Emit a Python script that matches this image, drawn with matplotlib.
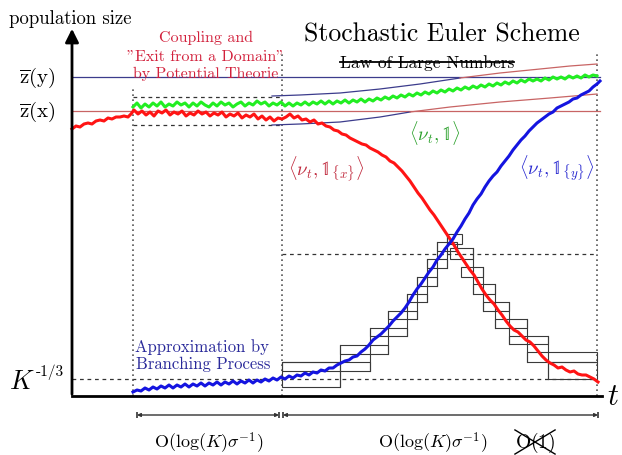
import numpy as np
import matplotlib
matplotlib.use('Agg')
import matplotlib.pyplot as plt
from matplotlib.patches import Rectangle

plt.rcParams['mathtext.fontset'] = 'cm'
plt.rcParams['font.family'] = ['cmr10', 'DejaVu Serif']
plt.rcParams['axes.unicode_minus'] = False

# ---------------- data (t = time, n = population size) ----------------
red_t = [0, 4, 8, 12, 16, 20, 24, 28, 32, 36, 40, 44, 48, 52, 56, 59, 62, 66, 70, 74, 78, 82, 86, 90, 94, 98,
         102, 106, 110, 114, 118, 122, 126, 130, 134, 138, 142, 146, 150, 154, 158, 162, 166, 170, 174, 178,
         182, 186, 190, 194, 198, 202, 206, 210, 214, 218, 222, 226, 230, 234, 238, 242, 246, 250, 254, 258,
         262, 266, 270, 274, 278, 282, 286, 290, 294, 298, 302, 306, 310, 314, 318, 322, 326, 330, 334, 338,
         342, 346, 350, 354, 358, 362, 366, 370, 374, 378, 382, 386, 390, 394, 398, 402, 406, 410, 414, 418,
         422, 426, 430, 434, 438, 442, 446, 450, 454, 458, 462, 466, 470, 474, 478, 482, 486, 490, 494, 498,
         502, 506, 510, 514, 518, 522, 526]
red_n = [267, 270, 269, 272, 273, 272, 275, 276, 275, 278, 277, 279, 279, 280, 279, 282, 286, 282, 285, 281,
         284, 280, 285, 283, 286, 281, 284, 282, 285, 280, 283, 281, 285, 282, 284, 280, 283, 281, 284, 279,
         282, 280, 283, 278, 281, 279, 282, 277, 280, 276, 279, 275, 278, 277, 279, 282, 278, 280, 276, 277,
         274, 276, 272, 273, 270, 269, 266, 265, 262, 261, 258, 256, 254, 252, 251, 248, 246, 244, 241, 239,
         235, 233, 229, 225, 220, 215, 209, 203, 198, 192, 186, 181, 175, 169, 163, 157, 151, 144, 138, 132,
         126, 121, 114, 107, 101, 96, 92, 86, 81, 75, 70, 66, 64, 60, 56, 54, 50, 45, 40, 36, 33, 31,
         28, 29, 26, 24, 25, 22, 21, 21, 19, 17, 14]

blue_t = [61, 65, 69, 73, 77, 81, 85, 89, 93, 97, 101, 105, 109, 113, 117, 121, 125, 129, 133, 137, 141, 145,
          149, 153, 157, 161, 165, 169, 173, 177, 181, 185, 189, 193, 197, 201, 205, 209, 213, 217, 221, 225,
          229, 233, 237, 241, 245, 249, 253, 257, 261, 265, 269, 273, 277, 281, 285, 289, 293, 297, 301, 305,
          309, 313, 317, 321, 325, 329, 333, 337, 341, 345, 349, 353, 357, 361, 365, 369, 373, 377, 381, 385,
          389, 393, 397, 401, 405, 409, 413, 417, 421, 425, 429, 433, 437, 441, 445, 449, 453, 457, 461, 465,
          469, 473, 477, 481, 485, 489, 493, 497, 501, 505, 509, 513, 517, 521, 525, 528]
blue_n = [4, 6, 5, 8, 6, 9, 7, 10, 8, 11, 8, 11, 9, 12, 9, 12, 10, 13, 10, 13, 11, 14, 11, 14, 12, 15, 12,
          15, 13, 16, 13, 16, 14, 17, 15, 18, 16, 19, 17, 20, 18, 21, 20, 23, 21, 24, 23, 26, 25, 28, 28, 31,
          33, 35, 36, 39, 40, 44, 47, 51, 56, 59, 62, 66, 70, 75, 79, 83, 88, 94, 101, 107, 112, 118, 124,
          129, 136, 141, 147, 152, 157, 164, 170, 177, 183, 191, 197, 202, 209, 215, 220, 224, 230, 235, 240,
          246, 251, 256, 260, 265, 269, 273, 276, 279, 282, 284, 288, 290, 292, 294, 297, 298, 301, 303, 305,
          309, 312, 315]

green_t = [61, 65, 69, 73, 77, 81, 85, 89, 93, 97, 101, 105, 109, 113, 117, 121, 125, 129, 133, 137, 141, 145,
           149, 153, 157, 161, 165, 169, 173, 177, 181, 185, 189, 193, 197, 201, 205, 209, 213, 217, 221, 225,
           229, 233, 237, 241, 245, 249, 253, 257, 261, 265, 269, 273, 277, 281, 285, 289, 293, 297, 301, 305,
           309, 313, 317, 321, 325, 329, 333, 337, 341, 345, 349, 353, 357, 361, 365, 369, 373, 377, 381, 385,
           389, 393, 397, 401, 405, 409, 413, 417, 421, 425, 429, 433, 437, 441, 445, 449, 453, 457, 461, 465,
           469, 473, 477, 481, 485, 489, 493, 497, 501, 505, 509, 513, 517, 521, 525]
green_n = [289, 293, 288, 292, 289, 293, 290, 294, 289, 292, 290, 294, 291, 293, 289, 293, 290, 294, 291, 289,
           293, 290, 294, 291, 293, 289, 292, 294, 290, 293, 291, 295, 292, 294, 290, 293, 291, 294, 290, 293,
           290, 293, 291, 294, 291, 294, 292, 295, 292, 295, 292, 295, 293, 296, 293, 296, 294, 297, 294, 297,
           295, 298, 296, 299, 297, 300, 298, 301, 299, 302, 300, 303, 301, 304, 302, 305, 303, 306, 304, 307,
           305, 308, 306, 309, 307, 310, 308, 311, 309, 312, 310, 313, 311, 314, 312, 315, 313, 316, 314, 317,
           315, 317, 315, 318, 316, 319, 317, 319, 317, 320, 318, 320, 318, 321, 319, 321, 320]

# reference levels
z_x = 285          # \bar z(x)
z_y = 319          # \bar z(y)
k_level = 17       # K^{-1/3}
mid_level = 142    # crossing level
band_hi, band_lo = 299, 271

# phase boundaries (times)
t_phase = [61, 210, 525]

# deterministic tube around the total mass
tube_up_t = [200, 228, 268, 308, 348, 388, 428, 468, 498, 525]
tube_up_n = [300, 301, 303, 307, 312, 318, 323, 327, 330, 332]
tube_lo_t = [200, 228, 268, 308, 338, 378, 428, 478, 525]
tube_lo_n = [271, 272, 274, 279, 284, 289, 294, 298, 302]

# staircase (branching-process) boxes: t0, t1, n_top, n_bottom
blue_box_t0 = [210, 210, 268, 298, 316, 335, 345, 355, 365, 375]
blue_box_t1 = [268, 298, 316, 335, 345, 355, 365, 375, 385, 390]
blue_box_hi = [34, 34, 51, 68, 85, 102, 119, 137, 154, 162]
blue_box_lo = [9, 25, 42, 60, 77, 94, 110, 128, 145, 152]

red_box_t0 = [378, 389, 401, 411, 423, 437, 455, 476]
red_box_t1 = [401, 411, 423, 437, 455, 476, 525, 525]
red_box_hi = [148, 129, 112, 94, 77, 60, 44, 34]
red_box_lo = [137, 119, 102, 85, 68, 52, 34, 17]

# ---------------- figure ----------------
fig = plt.figure(figsize=(6.22, 4.56), dpi=100)
ax = fig.add_axes([0, 0, 1, 1])
ax.set_xlim(-72, 550)
ax.set_ylim(-59, 397)
ax.axis('off')

RED = '#ff1414'
BLUE = '#1414e0'
GREEN = '#22ee22'
NAVY = '#3c3c8c'
SALMON = '#c86464'
GRID = '#555555'

# reference horizontal lines
ax.plot([0, 528], [z_y, z_y], color=NAVY, lw=0.9)
ax.plot([0, 528], [z_x, z_x], color=SALMON, lw=0.9)

# dashed lines
ax.plot([0, 525], [k_level, k_level], color='#333333', lw=0.9, ls=(0, (3, 3)))
ax.plot([t_phase[1], t_phase[2]], [mid_level, mid_level], color='#333333', lw=0.9, ls=(0, (3, 3)))
ax.plot([t_phase[0], t_phase[1]], [band_hi, band_hi], color='#333333', lw=0.9, ls=(0, (3, 3)))
ax.plot([t_phase[0], t_phase[1]], [band_lo, band_lo], color='#333333', lw=0.9, ls=(0, (3, 3)))

# dotted vertical phase lines
ax.plot([t_phase[0], t_phase[0]], [0, 310], color=GRID, lw=1.2, ls=(0, (1, 2)))
ax.plot([t_phase[1], t_phase[1]], [0, 342], color=GRID, lw=1.2, ls=(0, (1, 2)))
ax.plot([t_phase[2], t_phase[2]], [0, 342], color=GRID, lw=1.2, ls=(0, (1, 2)))

# tube curves (navy below/above reference, red beyond)
ax.plot(tube_up_t[:6], tube_up_n[:6], color=NAVY, lw=0.9)
ax.plot(tube_up_t[5:], tube_up_n[5:], color=SALMON, lw=0.9)
ax.plot(tube_lo_t[:5], tube_lo_n[:5], color=NAVY, lw=0.9)
ax.plot(tube_lo_t[4:], tube_lo_n[4:], color=SALMON, lw=0.9)

# staircase boxes
def draw_boxes(t0s, t1s, his, los):
    for a, b, hi, lo in zip(t0s, t1s, his, los):
        ax.add_patch(Rectangle((a, lo), b - a, hi - lo, fill=False, ec='#3a3a3a', lw=0.8, zorder=3))
    for i in range(len(t0s)):
        for j in range(len(t0s)):
            if t1s[i] == t0s[j]:
                lo_ = min(los[i], los[j]); hi_ = max(his[i], his[j])
                ax.plot([t0s[j], t0s[j]], [lo_, hi_], color='#3a3a3a', lw=0.8, zorder=3)

draw_boxes(blue_box_t0, blue_box_t1, blue_box_hi, blue_box_lo)
draw_boxes(red_box_t0, red_box_t1, red_box_hi, red_box_lo)

# stochastic curves
ax.plot(green_t, green_n, color=GREEN, lw=2.2, zorder=4)
ax.plot(red_t, red_n, color=RED, lw=2.2, zorder=5)
ax.plot(blue_t, blue_n, color=BLUE, lw=2.2, zorder=5)

# axes
ax.plot([0, 530], [0, 0], color='black', lw=2.0, zorder=6)
ax.annotate('', xy=(0, 370), xytext=(0, -1),
            arrowprops=dict(arrowstyle='-|>', lw=2.0, color='black', mutation_scale=20), zorder=6)

# bottom time-scale arrows
for a, b in [(65, 207), (211, 526)]:
    ax.annotate('', xy=(b, -19), xytext=(a, -19),
                arrowprops=dict(arrowstyle='<|-|>', lw=1.0, color='#333333', mutation_scale=5,
                                shrinkA=0, shrinkB=0))
    ax.plot([a, b], [-19, -19], ls='none', marker='|', ms=5, mew=1.2, color='#333333')

# ---------------- texts ----------------
ax.text(-63, 378, 'population size', fontsize=13.5, ha='left', va='center')
ax.text(370, 362, 'Stochastic Euler Scheme', fontsize=18.5, ha='center', va='center')
law = ax.text(355, 334, 'Law of Large Numbers', fontsize=12.5, ha='center', va='center')

for y, s in [(359, 'Coupling and'), (340, '"Exit from a Domain"'), (323, 'by Potential Theorie')]:
    ax.text(134, y, s, fontsize=11.5, color='#d2213c', ha='center', va='center')

ax.text(63, 50, 'Approximation by', fontsize=12, color='#2a2a9a', ha='left', va='center')
ax.text(64, 33, 'Branching Process', fontsize=12, color='#2a2a9a', ha='left', va='center')

ax.text(-35, z_y, r'$\overline{\mathrm{z}}(\mathrm{y})$', fontsize=15, ha='center', va='center')
ax.text(-35, z_x, r'$\overline{\mathrm{z}}(\mathrm{x})$', fontsize=15, ha='center', va='center')
ax.text(-50, 15, r'$K$', fontsize=19, ha='center', va='center')
ax.text(-36, 25, '-1/3', fontsize=11, ha='left', va='center')
ax.text(541, 0, r'$t$', fontsize=22, ha='center', va='center')

ax.text(363, 264, r'$\langle \nu_t, \mathbb{1}\rangle$', fontsize=13.5, color='#2aa02a', ha='center', va='center')
ax.text(254, 229, r'$\langle \nu_t, \mathbb{1}_{\{x\}}\rangle$', fontsize=13.5, color='#c0283c', ha='center', va='center')
ax.text(485, 229, r'$\langle \nu_t, \mathbb{1}_{\{y\}}\rangle$', fontsize=13.5, color='#2828d0', ha='center', va='center')

lab = r'$\mathrm{O}(\mathrm{log}(K)\sigma^{-1})$'
ax.text(137, -46, lab, fontsize=13, ha='center', va='center')
ax.text(361, -46, lab, fontsize=13, ha='center', va='center')
o1 = ax.text(463, -46, r'$\mathrm{O}(1)$', fontsize=14, ha='center', va='center')

fig.canvas.draw()
inv = ax.transData.inverted()
bb = law.get_window_extent()
(x0, y0), (x1, y1) = inv.transform([[bb.x0, bb.y0], [bb.x1, bb.y1]])
ax.plot([x0, x1], [(y0 + y1) / 2, (y0 + y1) / 2], color='black', lw=1.3)
bb = o1.get_window_extent()
(x0, y0), (x1, y1) = inv.transform([[bb.x0, bb.y0], [bb.x1, bb.y1]])
ax.plot([x0, x1], [y0, y1], color='black', lw=1.0)
ax.plot([x0, x1], [y1, y0], color='black', lw=1.0)

fig.savefig('out.png', dpi=100)
